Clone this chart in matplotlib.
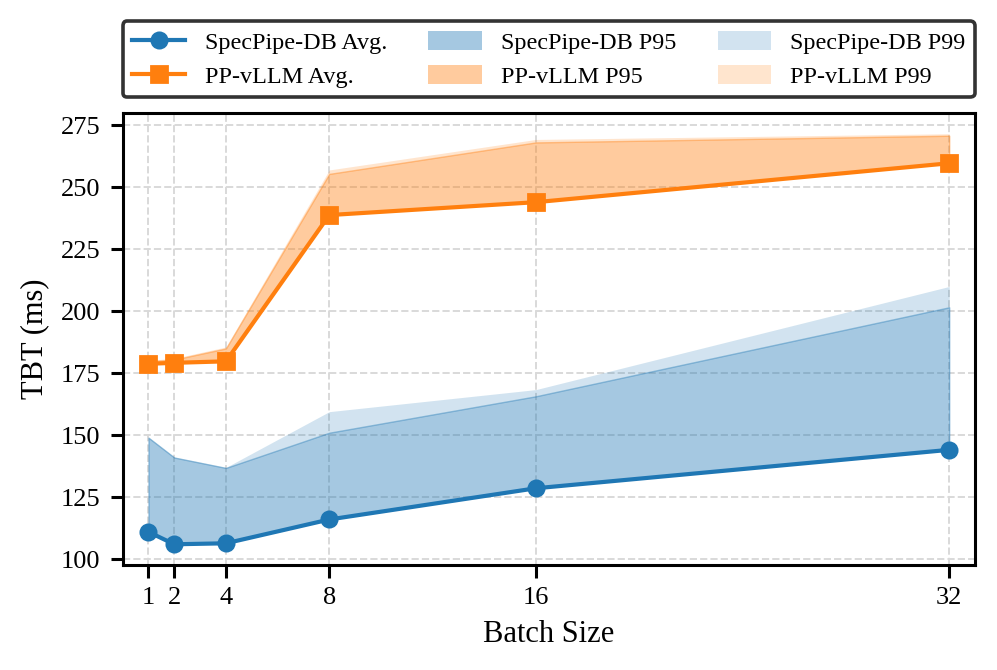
import matplotlib
matplotlib.use("Agg")
import matplotlib.pyplot as plt

batch = [1, 2, 4, 8, 16, 32]

spec_avg = [111.0, 106.0, 106.4, 116.0, 128.6, 144.1]
spec_p95 = [149.0, 141.0, 136.8, 151.0, 165.7, 201.6]
spec_p99 = [149.3, 141.2, 137.0, 159.5, 168.4, 210.0]

pp_avg = [178.8, 179.2, 179.8, 238.8, 244.0, 259.7]
pp_p95 = [179.8, 180.5, 185.0, 255.4, 268.1, 270.8]
pp_p99 = [180.2, 181.0, 185.6, 257.0, 269.3, 271.6]

plt.rcParams["font.family"] = ["Liberation Serif", "DejaVu Serif"]
plt.rcParams["font.size"] = 9

blue = "#1f77b4"
orange = "#ff7f0e"

fig = plt.figure(figsize=(4.985, 3.35), dpi=200)
ax = fig.add_axes([0.123, 0.157, 0.855, 0.674])

# P95 band from avg, P99 band stacked on top of P95
ax.fill_between(batch, spec_avg, spec_p95, color=blue, alpha=0.4, lw=0.5, label="SpecPipe-DB P95")
ax.fill_between(batch, spec_p95, spec_p99, color=blue, alpha=0.2, lw=0, label="SpecPipe-DB P99")
ax.fill_between(batch, pp_avg, pp_p95, color=orange, alpha=0.4, lw=0.5, label="PP-vLLM P95")
ax.fill_between(batch, pp_p95, pp_p99, color=orange, alpha=0.2, lw=0, label="PP-vLLM P99")

ax.plot(batch, spec_avg, marker="o", ms=5.5, lw=1.5, color=blue, label="SpecPipe-DB Avg.")
ax.plot(batch, pp_avg, marker="s", ms=5.5, lw=1.5, color=orange, label="PP-vLLM Avg.")

ax.set_xlim(0, 33)
ax.set_xticks(batch)
ax.set_xlabel("Batch Size", fontsize=11)
ax.set_ylabel("TBT (ms)", fontsize=11)
ax.grid(True, linestyle="--", color="#d9d9d9", lw=0.7)
ax.set_axisbelow(True)
for s in ax.spines.values():
    s.set_linewidth(1.1)
ax.tick_params(width=1.1, length=4.5, labelsize=9.5)

h, l = ax.get_legend_handles_labels()
order = [4, 5, 0, 2, 1, 3]
leg = ax.legend([h[i] for i in order], [l[i] for i in order], ncol=3,
                loc="lower left", bbox_to_anchor=(0, 1.035, 1, 0.2), mode="expand",
                borderaxespad=0, fontsize=8.7, frameon=True, fancybox=True,
                handlelength=2.2, handleheight=0.85, labelspacing=0.45,
                edgecolor="#333333", framealpha=1)
leg.get_frame().set_linewidth(1.3)
for p in leg.get_patches():
    p.set_linewidth(0)

fig.savefig("out.png", dpi=200)
